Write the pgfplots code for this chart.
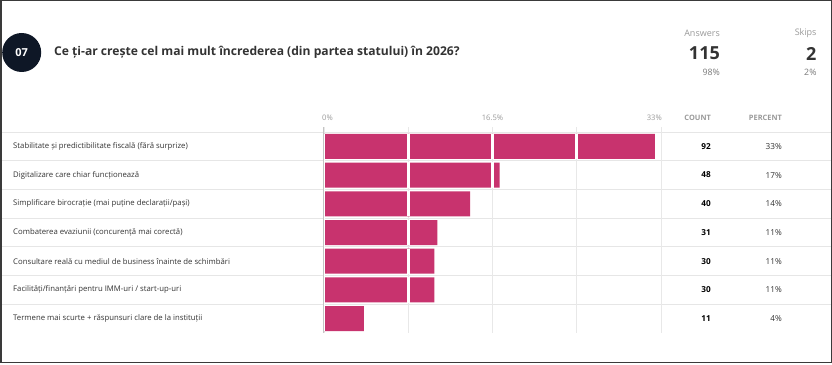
\documentclass[border=0pt]{standalone}
\usepackage{pgfplots}
\usepackage{pgfplotstable}
\pgfplotsset{compat=1.18}
\usepackage{fontspec}
\setmainfont{Open Sans}
\definecolor{barc}{HTML}{C8336E}
\definecolor{navy}{HTML}{0E1726}
\definecolor{gridc}{HTML}{E8E8E8}
\definecolor{zeroc}{HTML}{C4C4C4}
\definecolor{sepc}{HTML}{E6E6E6}
\definecolor{hdr}{HTML}{9A9A9A}
\definecolor{sub}{HTML}{7A7A7A}
\definecolor{txt}{HTML}{333333}
\definecolor{framec}{HTML}{3A3A3A}

\pgfplotstableread{
row count pct pr
0 92 32.4 33
1 48 17.2 17
2 40 14.3 14
3 31 11.1 11
4 30 10.8 11
5 30 10.8 11
6 11 3.9 4
}\data

\begin{document}
\begin{tikzpicture}[x=1pt,y=1pt]
\useasboundingbox (0,0) rectangle (832,364);
\fill[white] (0,0) rectangle (832,364);
% row separators
\foreach \k in {0,...,6}{
  \draw[sepc, line width=0.9pt] (1.5,{364-132-28.714*\k}) -- (830.5,{364-132-28.714*\k});
}
\begin{axis}[
  at={(324pt,31pt)}, anchor=south west,
  scale only axis, width=337pt, height=206pt,
  xmin=0, xmax=33, ymin=-0.674, ymax=6.5, y dir=reverse,
  axis line style={draw=none}, clip=false,
  xtick={0,8.25,16.5,24.75,33}, xticklabels={},
  major tick length=0pt, ytick=\empty,
  xmajorgrids, grid style={gridc, line width=0.8pt},
]
\addplot[xbar, bar width=25pt, fill=barc, draw=none] table[x=pct, y=row]{\data};
% white gaps at grid positions over bars
\addplot[white, line width=2.6pt, mark=none, unbounded coords=jump, sharp plot, forget plot]
 coordinates {(8.25,-0.44) (8.25,0.44) (8.25,nan) (16.5,-0.44) (16.5,0.44) (16.5,nan) (24.75,-0.44) (24.75,0.44) (24.75,nan)
 (8.25,0.56) (8.25,1.44) (8.25,nan) (16.5,0.56) (16.5,1.44) (16.5,nan)
 (8.25,1.56) (8.25,2.44) (8.25,nan)
 (8.25,2.56) (8.25,3.44) (8.25,nan)
 (8.25,3.56) (8.25,4.44) (8.25,nan)
 (8.25,4.56) (8.25,5.44)};
\addplot[white, line width=2.4pt, mark=none, sharp plot, forget plot] coordinates {(0,-0.44) (0,6.44)};
\addplot[zeroc, line width=1pt, mark=none, sharp plot, forget plot] coordinates {(-0.08,-0.674) (-0.08,6.5)};
% counts and percents
\addplot[draw=none, mark=none, sharp plot, forget plot, point meta=explicit symbolic,
  nodes near coords={\pgfplotspointmeta}, every node near coord/.append style={anchor=east, font=\fontsize{8.2pt}{9pt}\selectfont\bfseries, text=black, inner sep=0pt}]
  table[x expr=37.9, y=row, meta=count]{\data};
\addplot[draw=none, mark=none, sharp plot, forget plot, point meta=explicit symbolic,
  nodes near coords={\pgfplotspointmeta\%}, every node near coord/.append style={anchor=east, font=\fontsize{8.2pt}{9pt}\selectfont, text=txt, inner sep=0pt}]
  table[x expr=44.85, y=row, meta=pr]{\data};
% tick labels and headers
\node[anchor=west, text=hdr, font=\fontsize{7.6pt}{8pt}\selectfont, inner sep=0pt] at (axis cs:-0.2,-1.0) {0\%};
\node[anchor=center, text=hdr, font=\fontsize{7.6pt}{8pt}\selectfont, inner sep=0pt] at (axis cs:16.5,-1.0) {16.5\%};
\node[anchor=east, text=hdr, font=\fontsize{7.6pt}{8pt}\selectfont, inner sep=0pt] at (axis cs:33.1,-1.0) {33\%};
\node[anchor=east, text=hdr, font=\fontsize{7.4pt}{8pt}\selectfont\bfseries, inner sep=0pt] at (axis cs:37.9,-1.0) {COUNT};
\node[anchor=east, text=hdr, font=\fontsize{7.4pt}{8pt}\selectfont\bfseries, inner sep=0pt] at (axis cs:44.85,-1.0) {PERCENT};
% row labels
\begin{scope}[every node/.style={anchor=west, text=txt, font=\fontsize{7.75pt}{9pt}\selectfont, inner sep=0pt}]
\node at (axis cs:-30.45,0) {Stabilitate și predictibilitate fiscală (fără surprize)};
\node at (axis cs:-30.45,1) {Digitalizare care chiar funcționează};
\node at (axis cs:-30.45,2) {Simplificare birocrație (mai puține declarații/pași)};
\node at (axis cs:-30.45,3) {Combaterea evaziunii (concurență mai corectă)};
\node at (axis cs:-30.45,4) {Consultare reală cu mediul de business înainte de schimbări};
\node at (axis cs:-30.45,5) {Facilități/finanțări pentru IMM-uri / start-up-uri};
\node at (axis cs:-30.45,6) {Termene mai scurte + răspunsuri clare de la instituții};
\end{scope}
\end{axis}
% header
\fill[navy] (21.7,311.5) circle (19.5);
\node[text=white, font=\fontsize{11pt}{12pt}\selectfont\bfseries] at (21.7,311.5) {07};
\node[anchor=west, text=txt, font=\fontsize{12.1pt}{14pt}\selectfont\bfseries, inner sep=0pt] at (54,311.7) {Ce ți-ar crește cel mai mult încrederea (din partea statului) în 2026?};
\node[anchor=east, text=hdr, font=\fontsize{9pt}{10pt}\selectfont, inner sep=0pt] at (720,331) {Answers};
\node[anchor=east, text=txt, font=\fontsize{18pt}{20pt}\selectfont\bfseries, inner sep=0pt] at (720,310.5) {115};
\node[anchor=east, text=sub, font=\fontsize{8.8pt}{10pt}\selectfont, inner sep=0pt] at (720,292) {98\%};
\node[anchor=east, text=hdr, font=\fontsize{9pt}{10pt}\selectfont, inner sep=0pt] at (816.7,331) {Skips};
\node[anchor=east, text=txt, font=\fontsize{18pt}{20pt}\selectfont\bfseries, inner sep=0pt] at (816.7,310.5) {2};
\node[anchor=east, text=sub, font=\fontsize{8.8pt}{10pt}\selectfont, inner sep=0pt] at (816.7,292) {2\%};
% frame
\draw[framec, line width=1.5pt] (0.75,1.75) rectangle (831.25,363.25);
\end{tikzpicture}
\end{document}
